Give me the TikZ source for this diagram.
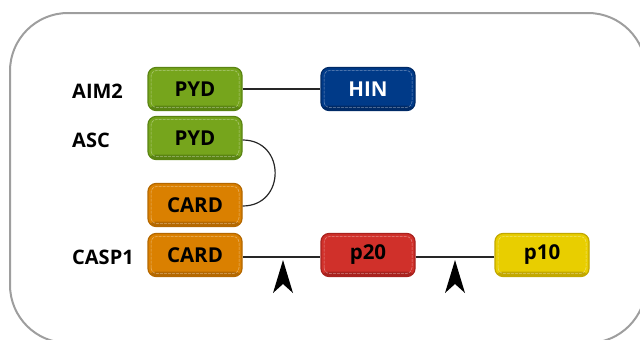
\documentclass[tikz,border=0pt]{standalone}
\usepackage{fontspec}
\setmainfont{Open Sans}
\definecolor{gfill}{HTML}{76A51C}\definecolor{gdark}{HTML}{5A8412}
\definecolor{bfill}{HTML}{003A88}\definecolor{bdark}{HTML}{002A66}
\definecolor{ofill}{HTML}{DA8000}\definecolor{odark}{HTML}{B46800}
\definecolor{rfill}{HTML}{D0302A}\definecolor{rdark}{HTML}{A8221E}
\definecolor{yfill}{HTML}{E8CE00}\definecolor{ydark}{HTML}{C2A800}
\begin{document}
\begin{tikzpicture}[x=1pt,y=-1pt,
  dom/.style n args={3}{rectangle, rounded corners=8pt, minimum width=94pt, minimum height=43pt,
    inner sep=0pt, fill=#1, draw=#2, line width=1.2pt, text=#3, font=\fontsize{20.5}{22}\selectfont\bfseries,
    path picture={
      \fill[#2] ([yshift=-1pt]path picture bounding box.south west) rectangle ([yshift=5pt]path picture bounding box.south east);
      \draw[white, opacity=.45, line width=.5pt, rounded corners=6pt, dash pattern=on 3pt off 1pt]
        ([shift={(3pt,3pt)}]path picture bounding box.south west) rectangle ([shift={(-3pt,-3pt)}]path picture bounding box.north east);
    }},
  lbl/.style={anchor=west, inner sep=0pt, font=\fontsize{20}{22}\selectfont\bfseries},
  link/.style={line width=1.2pt, black!85},
  cleave/.style={fill=black}]
\useasboundingbox (0,0) rectangle (640,340);
\draw[black!38, line width=2pt, rounded corners=58pt] (10,13) rectangle (646,343);

\node[lbl] (laim) at (72,91) {AIM2};
\node[lbl] (lasc) at (72,140) {ASC};
\node[lbl] (lcasp) at (72,257) {CASP1};

\node[dom={gfill}{gdark}{black}] (aimpyd) at (195,89) {PYD};
\node[dom={bfill}{bdark}{white}] (hin) at (368,89) {HIN};
\node[dom={gfill}{gdark}{black}] (ascpyd) at (195,138) {PYD};
\node[dom={ofill}{odark}{black}] (asccard) at (195,205) {CARD};
\node[dom={ofill}{odark}{black}] (caspcard) at (195,255) {CARD};
\node[dom={rfill}{rdark}{black}] (p20) at (368,255) {p20};
\node[dom={yfill}{ydark}{black}] (p10) at (542,255) {p10};

\draw[link] (aimpyd.east) -- (hin.west);
\draw[link] ([yshift=-2pt]ascpyd.east) .. controls (286,140) and (286,206) .. ([yshift=-1pt]asccard.east);
\draw[link] ([yshift=-2pt]caspcard.east) -- ([yshift=-2pt]p20.west);
\draw[link] ([yshift=-2pt]p20.east) -- ([yshift=-2pt]p10.west);

\coordinate (c1) at (283,260);
\coordinate (c2) at (455,260);
\foreach \c in {c1,c2}{
  \fill[cleave] (\c) .. controls +(3,10) .. ++(10,33) -- ++(-10,-9) -- ++(-10,9) .. controls +(7,-23) .. cycle;
}
\end{tikzpicture}
\end{document}
